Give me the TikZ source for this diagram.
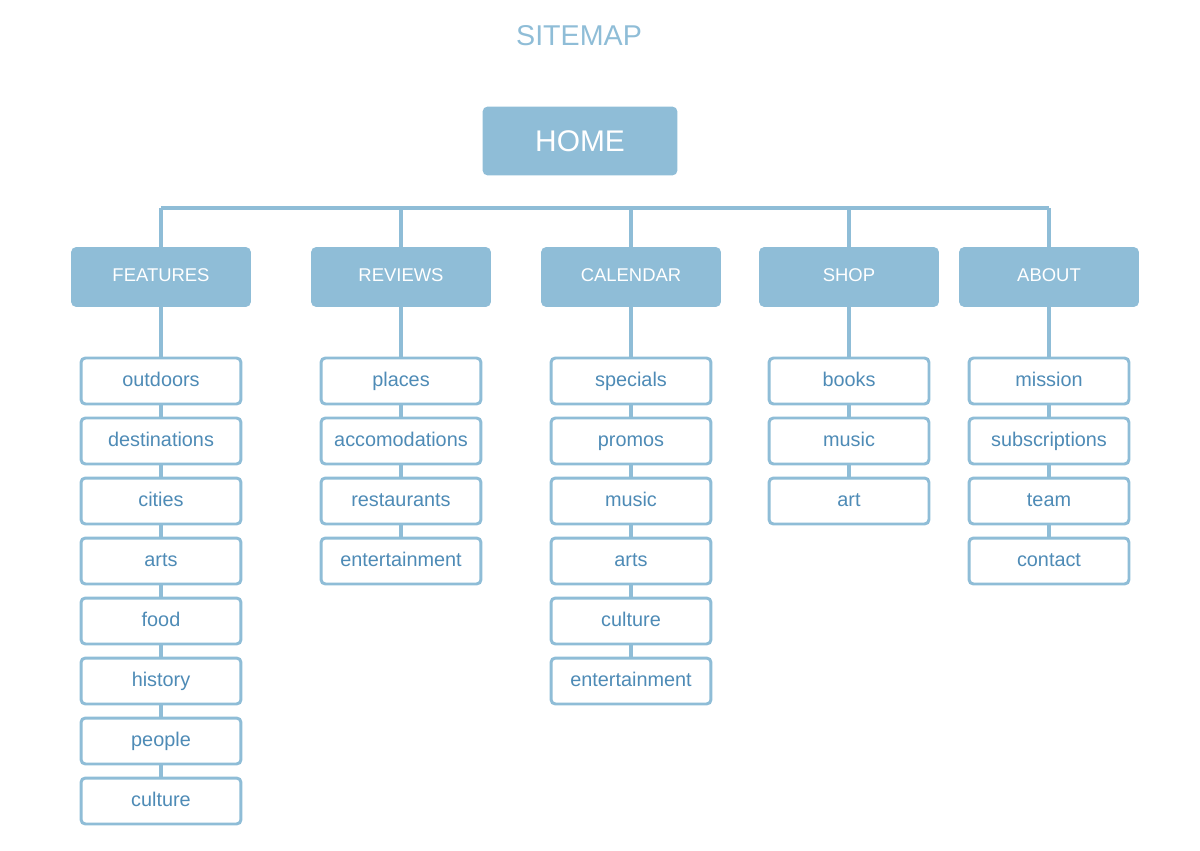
\documentclass[tikz,border=0pt]{standalone}
\usepackage{fontspec}
\setmainfont{Liberation Sans}
\definecolor{boxblue}{HTML}{8FBDD7}
\definecolor{textblue}{HTML}{4E8BB6}
\tikzset{
	home/.style={fill=boxblue, rounded corners=3pt, minimum width=3.9cm, minimum height=1.38cm, text=white, font=\fontsize{17}{20}\selectfont},
	cat/.style={fill=boxblue, rounded corners=3pt, minimum width=3.6cm, minimum height=1.2cm, text=white, text height=1.9ex, text depth=.9ex, font=\fontsize{10.5}{12}\selectfont},
	page/.style={draw=boxblue, fill=white, line width=1.7pt, rounded corners=2.5pt, minimum width=3.2cm, minimum height=0.92cm, text=textblue, text height=1.9ex, text depth=.8ex, font=\fontsize{11.3}{13}\selectfont},
	link/.style={draw=boxblue, line width=2.2pt}
}
\begin{document}
\begin{tikzpicture}[x=0.02cm, y=-0.02cm]
	\useasboundingbox (0,0) rectangle (1200,851);
	\node[text=boxblue, font=\fontsize{16.3}{19}\selectfont] (title) at (579,36) {SITEMAP};
	\node[home] (home) at (580,141) {HOME};
	\coordinate (busL) at (161,208);
	\coordinate (busR) at (1049,208);
	\draw[link] (busL) -- (busR);
	\foreach \n/\x/\t/\items in {
		feat/161/FEATURES/{outdoors,destinations,cities,arts,food,history,people,culture},
		rev/401/REVIEWS/{places,accomodations,restaurants,entertainment},
		cal/631/CALENDAR/{specials,promos,music,arts,culture,entertainment},
		shop/849/SHOP/{books,music,art},
		about/1049/ABOUT/{mission,subscriptions,team,contact}} {
		\node[cat, alias=\n0] (\n) at (\x,277) {\t};
		\draw[link] (\n.north) -- (\n.north |- busL);
		\foreach \i [count=\k, remember=\k as \j (initially 0)] in \items {
			\node[page] (\n\k) at (\x,{381+60*(\k-1)}) {\i};
			\draw[link] (\n\j.south) -- (\n\k.north);}
	}
\end{tikzpicture}
\end{document}
